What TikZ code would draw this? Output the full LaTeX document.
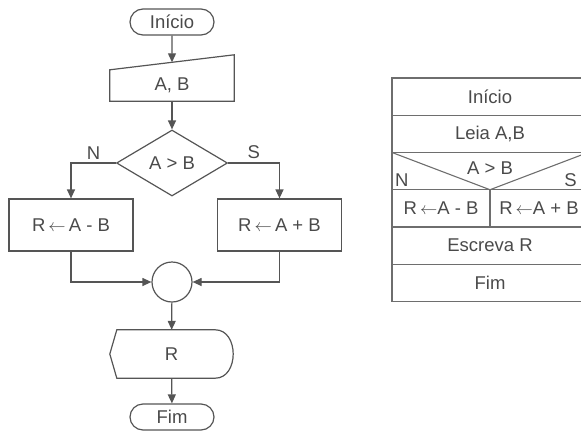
\documentclass[tikz,border=0pt]{standalone}
\usepackage{fontspec}
\setmainfont{Liberation Sans}
\usetikzlibrary{arrows.meta, shapes.geometric, shapes.misc, positioning, calc}

\definecolor{linegray}{HTML}{555555}
\definecolor{tablegray}{HTML}{6E6E6E}
\definecolor{textgray}{HTML}{4A4A4A}

\tikzset{
  line/.style={draw=linegray, line width=1.2pt},
  flow/.style={line, -{Triangle[length=9pt,width=8pt]}},
  term/.style={line, rounded rectangle, minimum width=84pt, minimum height=26pt, inner sep=0pt},
  proc/.style={line, rectangle, minimum width=124pt, minimum height=52pt},
  cell/.style={draw=tablegray, line width=1.1pt, minimum width=196pt, minimum height=37.25pt, inner sep=0pt, outer sep=0pt},
  half/.style={minimum width=98pt},
}

\begin{document}
\begin{tikzpicture}[x=1pt, y=-1pt, font=\fontsize{18.5}{22}\selectfont, text=textgray]
\useasboundingbox (0,0) rectangle (581,437);

% flowchart
\node[term] (ini) at (172,22) {Início};
\node[minimum width=124pt, minimum height=31pt, inner sep=0pt] (ab) at (172,85.5) {A, B};
\draw[line] (ab.south west) -- (ab.south east) -- ([yshift=15pt]ab.north east) -- (ab.north west) -- cycle;
\coordinate (abtop) at ($(ab.north)+(0,-7.5)$);
\node[line, diamond, minimum width=111pt, minimum height=66pt, inner sep=0pt] (cmp) at (172,163) {A > B};
\node[proc] (sub) at (71,225) {R\,$\leftarrow$\,A - B};
\node[proc] (add) at (279.5,225) {R\,$\leftarrow$\,A + B};
\node[line, circle, minimum size=40pt, inner sep=0pt] (join) at (172,282) {};
\node[minimum width=123pt, minimum height=48pt, inner sep=0pt] (out) at (171.5,354) {R};
\draw[line] ([xshift=7pt]out.north west) -- ([xshift=-18pt]out.north east)
  .. controls ([xshift=6pt]out.north east) and ([xshift=6pt]out.south east) .. ([xshift=-18pt]out.south east)
  -- ([xshift=7pt]out.south west) -- (out.west) -- cycle;
\node[term] (fim) at (172,417) {Fim};

\draw[flow] (ini) -- (abtop);
\draw[flow] (ab) -- (cmp);
\draw[flow] (cmp.west) -| node[pos=0.25, above] {N} (sub.north);
\draw[flow] (cmp.east) -| node[pos=0.25, above] {S} (add.north);
\draw[flow] (sub.south) |- (join.west);
\draw[flow] (add.south) |- (join.east);
\draw[flow] (join) -- (out);
\draw[flow] (out) -- (fim);

% structured chart
\node[cell] (tini) at (490,96.6) {Início};
\node[cell, below=0pt of tini] (tleia) {Leia A,B};
\node[cell, below=0pt of tleia] (tcmp) {};
\node[cell, half, anchor=north west] (tsub) at (tcmp.south west) {R\,$\leftarrow$A - B};
\node[cell, half, anchor=north east] (tadd) at (tcmp.south east) {R\,$\leftarrow$A + B};
\node[cell, anchor=north west] (tesc) at (tsub.south west) {Escreva R};
\node[cell, below=0pt of tesc] (tfim) {Fim};
\draw[draw=tablegray, line width=1.1pt] (tcmp.north west) -- (tcmp.south) -- (tcmp.north east);
\node (tgt) at ([yshift=3pt]tcmp.center) {A > B};
\node[anchor=south west, inner sep=3pt] (tn) at (tcmp.south west) {N};
\node[anchor=south east, inner sep=3pt] (ts) at ([xshift=-8pt]tcmp.south east) {S};
\end{tikzpicture}
\end{document}
